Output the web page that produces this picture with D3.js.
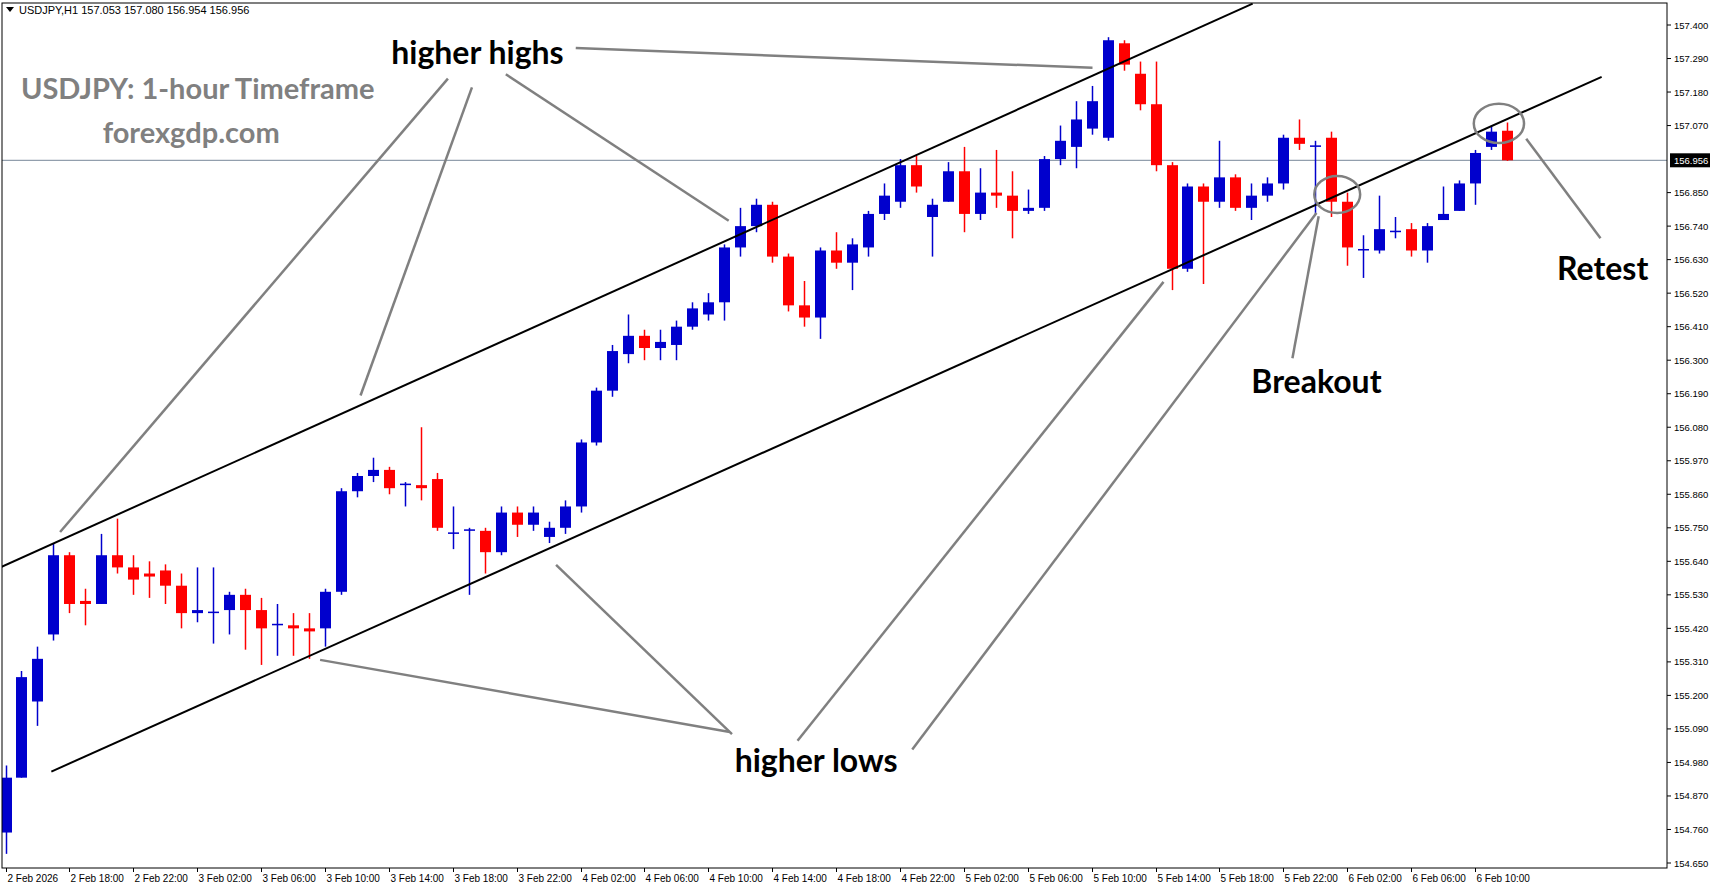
<!DOCTYPE html>
<html><head><meta charset="utf-8">
<script src="https://cdn.jsdelivr.net/npm/d3@7"></script>
<style>body{margin:0;background:#fff}svg{display:block}</style></head>
<body><svg id="c" width="1713" height="888"></svg>
<script>
const opens  = [154.75,154.93,155.18,155.40,155.66,155.51,155.50,155.66,155.62,155.60,155.61,155.56,155.47,155.47,155.48,155.53,155.48,155.43,155.43,155.42,155.42,155.54,155.87,155.92,155.94,155.89,155.89,155.91,155.73,155.74,155.74,155.67,155.80,155.76,155.72,155.75,155.82,156.03,156.20,156.32,156.38,156.34,156.35,156.41,156.45,156.49,156.67,156.74,156.81,156.64,156.48,156.44,156.66,156.62,156.67,156.78,156.82,156.94,156.77,156.82,156.92,156.78,156.85,156.84,156.79,156.80,156.96,157.00,157.06,157.03,157.34,157.24,157.14,156.94,156.60,156.87,156.82,156.90,156.80,156.84,156.88,157.03,157.00,157.03,156.82,156.66,156.66,156.72,156.73,156.66,156.76,156.79,156.88,157.00,157.053];
const closes = [154.93,155.26,155.32,155.66,155.50,155.50,155.66,155.62,155.58,155.59,155.56,155.47,155.48,155.475,155.53,155.48,155.42,155.435,155.42,155.41,155.54,155.87,155.92,155.94,155.88,155.895,155.88,155.75,155.735,155.745,155.67,155.80,155.76,155.80,155.75,155.82,156.03,156.20,156.33,156.38,156.34,156.36,156.41,156.47,156.49,156.67,156.74,156.81,156.64,156.48,156.44,156.66,156.62,156.68,156.78,156.84,156.94,156.87,156.81,156.92,156.78,156.85,156.84,156.79,156.80,156.96,157.02,157.09,157.15,157.35,157.27,157.14,156.94,156.60,156.87,156.82,156.90,156.80,156.84,156.88,157.03,157.01,157.005,156.82,156.67,156.665,156.73,156.725,156.66,156.74,156.78,156.88,156.98,157.05,156.956];
const highs  = [154.97,155.28,155.36,155.70,155.67,155.55,155.73,155.78,155.66,155.64,155.63,155.60,155.62,155.62,155.54,155.55,155.52,155.50,155.47,155.47,155.55,155.88,155.93,155.98,155.95,155.90,156.08,155.93,155.82,155.75,155.75,155.82,155.82,155.82,155.77,155.84,156.04,156.21,156.35,156.45,156.40,156.40,156.43,156.49,156.52,156.68,156.80,156.83,156.82,156.65,156.56,156.67,156.72,156.70,156.79,156.88,156.96,156.97,156.83,156.95,157.00,156.93,156.99,156.92,156.86,156.97,157.07,157.15,157.20,157.36,157.35,157.28,157.28,156.95,156.88,156.88,157.02,156.91,156.88,156.90,157.04,157.09,157.02,157.05,156.85,156.71,156.84,156.77,156.75,156.75,156.87,156.89,156.99,157.07,157.080];
const lows   = [154.68,154.93,155.10,155.38,155.47,155.43,155.50,155.60,155.53,155.52,155.50,155.42,155.44,155.37,155.40,155.35,155.30,155.33,155.33,155.32,155.36,155.53,155.85,155.90,155.86,155.82,155.84,155.74,155.68,155.53,155.60,155.66,155.72,155.74,155.70,155.73,155.80,156.02,156.18,156.29,156.30,156.30,156.30,156.40,156.43,156.43,156.64,156.72,156.62,156.46,156.41,156.37,156.60,156.53,156.64,156.76,156.80,156.85,156.64,156.82,156.72,156.76,156.80,156.70,156.78,156.79,156.94,156.93,157.04,157.02,157.25,157.12,156.92,156.53,156.59,156.55,156.80,156.79,156.76,156.82,156.86,156.99,156.78,156.77,156.61,156.57,156.65,156.70,156.64,156.62,156.76,156.79,156.81,156.99,156.954];
const priceTicks = ["157.400","157.290","157.180","157.070","156.850","156.740","156.630","156.520","156.410","156.300","156.190","156.080","155.970","155.860","155.750","155.640","155.530","155.420","155.310","155.200","155.090","154.980","154.870","154.760","154.650"];
const timeTicks = ["2 Feb 2026","2 Feb 18:00","2 Feb 22:00","3 Feb 02:00","3 Feb 06:00","3 Feb 10:00","3 Feb 14:00","3 Feb 18:00","3 Feb 22:00","4 Feb 02:00","4 Feb 06:00","4 Feb 10:00","4 Feb 14:00","4 Feb 18:00","4 Feb 22:00","5 Feb 02:00","5 Feb 06:00","5 Feb 10:00","5 Feb 14:00","5 Feb 18:00","5 Feb 22:00","6 Feb 02:00","6 Feb 06:00","6 Feb 10:00"];
const lastPrice = 156.956;
const channelUpper = [[-0.34,155.62],[78.08,157.47]];
const channelLower = [[2.87,154.95],[99.93,157.23]];

const svg = d3.select("#c");
const L=2,R=1667,T=3,B=868;
const x = d3.scaleLinear().domain([0,92]).range([5.5,1475]);
const y = d3.scaleLinear().domain([154.65,157.4]).range([863,25]);
const S = v=>v*1.0925;
const AX = "'Liberation Sans', Arial, sans-serif";
svg.append("clipPath").attr("id","cp").append("rect").attr("x",L).attr("y",T).attr("width",R-L).attr("height",B-T);
const g = svg.append("g").attr("clip-path","url(#cp)");

g.append("line").attr("x1",L).attr("x2",R).attr("y1",y(lastPrice)).attr("y2",y(lastPrice)).attr("stroke","#778899").attr("stroke-width",1);

const idx = d3.range(opens.length);
g.selectAll(".wick").data(idx).join("line").attr("x1",i=>Math.round(x(i))+0.5).attr("x2",i=>Math.round(x(i))+0.5)
 .attr("y1",i=>y(highs[i])).attr("y2",i=>y(lows[i]))
 .attr("stroke",i=>closes[i]>=opens[i]?"#0000CD":"#FF0000").attr("stroke-width",1.5);
g.selectAll(".body").data(idx).join("rect").attr("x",i=>Math.round(x(i))-5).attr("width",11)
 .attr("y",i=>y(Math.max(opens[i],closes[i]))).attr("height",i=>Math.max(1.5,Math.abs(y(opens[i])-y(closes[i]))))
 .attr("fill",i=>closes[i]>=opens[i]?"#0000CD":"#FF0000");

[channelUpper,channelLower].forEach(c=>g.append("line").attr("x1",x(c[0][0])).attr("y1",y(c[0][1])).attr("x2",x(c[1][0])).attr("y2",y(c[1][1])).attr("stroke","#000").attr("stroke-width",2));

const ann = [[527,44,1000,62],[463,68,667,202],[432,80,330,362],[410,72,55,487],
 [293,604,668,670],[509,517,670,672],[730,678,1065,258],[835,686,1205,195],
 [1183,328,1207,198],[1465,218,1397,127]];
g.selectAll(".ann").data(ann).join("line").attr("x1",d=>S(d[0])).attr("y1",d=>S(d[1])).attr("x2",d=>S(d[2])).attr("y2",d=>S(d[3])).attr("stroke","#808080").attr("stroke-width",2.5);
[[1224,178,21,17],[1372,113,23,18]].forEach(e=>g.append("ellipse").attr("cx",S(e[0])).attr("cy",S(e[1])).attr("rx",S(e[2])).attr("ry",S(e[3])).attr("fill","none").attr("stroke","#808080").attr("stroke-width",2.5));

const big = [["higher highs",437,47],["higher lows",747,695],["Breakout",1205,348],["Retest",1467,245]];
big.forEach(t=>svg.append("text").attr("x",S(t[1])).attr("y",S(t[2])).attr("text-anchor","middle").attr("dominant-baseline","central")
 .attr("font-family","Lato, 'Open Sans', sans-serif").attr("font-weight","bold").attr("font-size",32).attr("fill","#000").text(t[0]));
svg.append("text").attr("x",S(181)).attr("y",S(80)).attr("text-anchor","middle").attr("dominant-baseline","central").attr("font-family","Lato, sans-serif").attr("font-weight","bold").attr("font-size",29).attr("fill","#808080").text("USDJPY: 1-hour Timeframe");
svg.append("text").attr("x",S(175)).attr("y",S(120)).attr("text-anchor","middle").attr("dominant-baseline","central").attr("font-family","Lato, sans-serif").attr("font-weight","bold").attr("font-size",29).attr("fill","#808080").text("forexgdp.com");

svg.append("path").attr("d","M6,7 L14,7 L10,12 Z").attr("fill","#000");
svg.append("text").attr("x",19).attr("y",14).attr("font-family",AX).attr("font-size",11).attr("fill","#000").text("USDJPY,H1  157.053 157.080 156.954 156.956");

svg.append("rect").attr("x",L).attr("y",T).attr("width",R-L).attr("height",B-T).attr("fill","none").attr("stroke","#000").attr("stroke-width",1);

const ya = svg.append("g");
priceTicks.forEach(p=>{const v=+p;ya.append("line").attr("x1",R).attr("x2",R+4).attr("y1",y(v)).attr("y2",y(v)).attr("stroke","#000");
 ya.append("text").attr("x",R+7).attr("y",y(v)+3.5).attr("font-family",AX).attr("font-size",9.5).attr("fill","#000").text(p);});
ya.append("rect").attr("x",R+3).attr("y",y(lastPrice)-7).attr("width",40).attr("height",14).attr("fill","#000");
ya.append("text").attr("x",R+7).attr("y",y(lastPrice)+3.5).attr("font-family",AX).attr("font-size",9.5).attr("fill","#fff").text(lastPrice.toFixed(3));

timeTicks.forEach((t,k)=>{const xv=Math.round(x(k*4))+0.5;
 svg.append("line").attr("x1",xv).attr("x2",xv).attr("y1",B).attr("y2",B+4).attr("stroke","#000");
 svg.append("text").attr("x",xv+1).attr("y",B+14).attr("font-family",AX).attr("font-size",10).attr("fill","#000").text(t);});
</script></body></html>
